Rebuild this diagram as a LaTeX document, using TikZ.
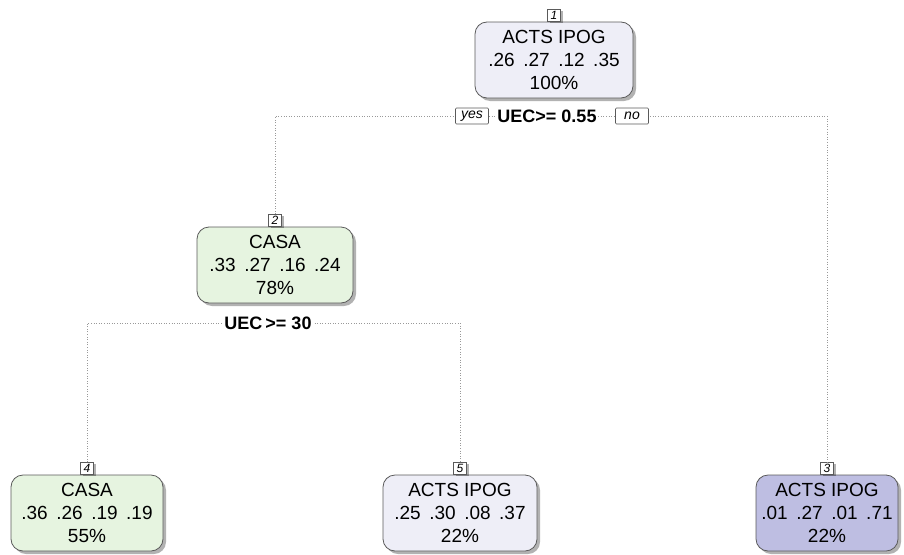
\documentclass[tikz,border=0pt]{standalone}
\usepackage{fontspec}
\setmainfont{Liberation Sans}
\usetikzlibrary{shadows}
\definecolor{lav}{RGB}{238,238,247}
\definecolor{grn}{RGB}{230,244,224}
\definecolor{lavdark}{RGB}{190,190,226}
\definecolor{edgegray}{RGB}{90,90,90}
\tikzset{
  leafbox/.style={draw=edgegray, line width=0.8pt, rounded corners=12pt, align=center,
    font=\fontsize{19}{23}\selectfont, inner sep=0pt, minimum height=76pt,
    drop shadow={shadow xshift=3pt, shadow yshift=-3pt, fill=black, opacity=0.3}},
  numbox/.style={draw=edgegray, line width=0.6pt, fill=white, inner sep=0pt,
    minimum width=13pt, minimum height=12pt, font=\fontsize{12}{12}\itshape\selectfont,
    drop shadow={shadow xshift=2pt, shadow yshift=-2pt, fill=black, opacity=0.3}},
  yesno/.style={draw=edgegray, line width=0.6pt, fill=white, inner sep=0pt,
    minimum height=16pt, font=\fontsize{14}{14}\itshape\selectfont, rounded corners=1pt},
  splitlab/.style={fill=white, inner sep=1pt, font=\fontsize{18}{18}\bfseries\selectfont},
  conn/.style={draw=gray!80, line width=0.6pt, dotted},
}
\newcommand{\gp}{\hspace{0.45em}}
\begin{document}
\begin{tikzpicture}[x=1pt,y=-1pt]
\useasboundingbox (0,0) rectangle (904,554);
% nodes
\node[leafbox, fill=lav, minimum width=158pt] (n1) at (554,60) {ACTS IPOG\\.26\gp.27\gp.12\gp.35\\100\%};
\node[leafbox, fill=grn, minimum width=156pt] (n2) at (275,265) {CASA\\.33\gp.27\gp.16\gp.24\\78\%};
\node[leafbox, fill=grn, minimum width=152pt] (n4) at (87,513) {CASA\\.36\gp.26\gp.19\gp.19\\55\%};
\node[leafbox, fill=lav, minimum width=154pt] (n5) at (460,513) {ACTS IPOG\\.25\gp.30\gp.08\gp.37\\22\%};
\node[leafbox, fill=lavdark, minimum width=142pt] (n3) at (827,513) {ACTS IPOG\\.01\gp.27\gp.01\gp.71\\22\%};
% number boxes
\node[numbox, anchor=south] (k1) at (n1.north) {1};
\node[numbox, anchor=south] (k2) at (n2.north) {2};
\node[numbox, anchor=south] (k4) at (n4.north) {4};
\node[numbox, anchor=south] (k5) at (n5.north) {5};
\node[numbox, anchor=south] (k3) at (n3.north) {3};
% split 1
\coordinate (s1l) at (275,116);
\coordinate (s1r) at (827,116);
\draw[conn] (k2.north) -- (k2.north |- s1l) -- (s1r) -- (k3.north);
\node[yesno, minimum width=33pt] (yes) at (472,116) {yes};
\node[splitlab] (lab1) at (547,116) {UEC>= 0.55};
\node[yesno, minimum width=33pt] (no) at (632,116) {no};
% split 2
\coordinate (s2l) at (87,323);
\coordinate (s2r) at (460,323);
\draw[conn] (k4.north) -- (k4.north |- s2l) -- (s2r) -- (k5.north);
\node[splitlab] (lab2) at (268,323) {UEC\,>= 30};
\end{tikzpicture}
\end{document}
